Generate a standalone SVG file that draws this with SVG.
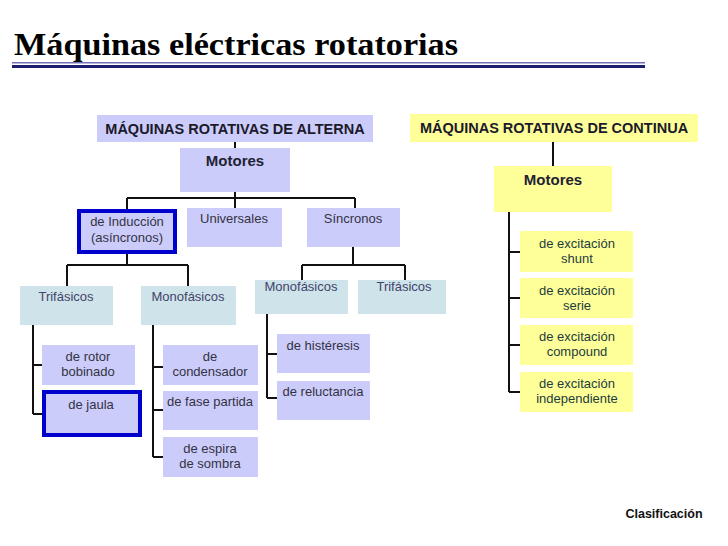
<svg xmlns="http://www.w3.org/2000/svg" width="728" height="546" viewBox="0 0 728 546">
<style>
.lav{fill:#ccccfa}
.cy{fill:#cfe3ea}
.yel{fill:#ffff99}
.hl{fill:#ccccfa;stroke:#0000cc;stroke-width:4}
text{font-family:"Liberation Sans",Arial,sans-serif;text-anchor:middle}
.t{font-size:13px;fill:#333344}
.tc{font-size:13px;fill:#44446a}
.ty{font-size:13px;fill:#1d3d3d}
.h{font-size:14.5px;font-weight:bold;fill:#1a1a2a}
.m{font-size:15px;font-weight:bold;fill:#222233}
.c path{fill:none;stroke:#111;stroke-width:2}
</style>
<rect width="728" height="546" fill="#fff"/>
<g id="title">
<text x="14" y="55" style="font-family:'Liberation Serif','Times New Roman',serif;font-size:32px;font-weight:bold;text-anchor:start;fill:#000" textLength="444" lengthAdjust="spacingAndGlyphs">Máquinas eléctricas rotatorias</text>
<rect x="12" y="62" width="633" height="1.5" fill="#7070b8"/>
<rect x="12" y="65" width="633" height="3" fill="#1c1c70"/>
</g>
<g class="c" id="connectors">
<path d="M235 141V148M235 192V198M127 198H355M127 198V209M235 198V208M355 198V208"/>
<path d="M127 253V265M67 265H188M67 265V286M188 265V286"/>
<path d="M33 325V414M33 365H42M33 414H42"/>
<path d="M153 325V457M153 367H163M153 410H163M153 457H163"/>
<path d="M353 247V265M302 265H405M302 265V280M405 265V280"/>
<path d="M267 314V398M267 354H277M267 398H277"/>
<path d="M553 142V166M509 212V392M509 252H520M509 298H520M509 345H520M509 392H520"/>
</g>
<g id="alterna">
<rect class="lav" x="97" y="115" width="276" height="27"/>
<text class="h" x="235" y="134">MÁQUINAS ROTATIVAS DE ALTERNA</text>
</g>
<g id="motores-alterna">
<rect class="lav" x="180" y="148" width="110" height="44"/>
<text class="m" x="235" y="166">Motores</text>
</g>
<g id="induccion">
<rect class="hl" x="79" y="211" width="96" height="41"/>
<text class="t" x="127" y="226">de Inducción</text>
<text class="t" x="127" y="242">(asíncronos)</text>
</g>
<g id="universales">
<rect class="lav" x="187" y="208" width="95" height="39"/>
<text class="t" x="234" y="223">Universales</text>
</g>
<g id="sincronos">
<rect class="lav" x="307" y="208" width="93" height="39"/>
<text class="t" x="353" y="223">Síncronos</text>
</g>
<g id="trifasicos-ind">
<rect class="cy" x="20" y="286" width="93" height="39"/>
<text class="tc" x="66" y="301">Trifásicos</text>
</g>
<g id="monofasicos-ind">
<rect class="cy" x="141" y="286" width="95" height="39"/>
<text class="tc" x="188" y="301">Monofásicos</text>
</g>
<g id="rotor-bobinado">
<rect class="lav" x="42" y="345" width="93" height="40"/>
<text class="t" x="88" y="361">de rotor</text>
<text class="t" x="88" y="376">bobinado</text>
</g>
<g id="jaula">
<rect class="hl" x="44" y="392" width="96" height="43"/>
<text class="t" x="91" y="409">de jaula</text>
</g>
<g id="condensador">
<rect class="lav" x="163" y="345" width="95" height="40"/>
<text class="t" x="210" y="361">de</text>
<text class="t" x="210" y="376">condensador</text>
</g>
<g id="fase-partida">
<rect class="lav" x="163" y="391" width="95" height="39"/>
<text class="t" x="210" y="406">de fase partida</text>
</g>
<g id="espira-sombra">
<rect class="lav" x="163" y="437" width="95" height="40"/>
<text class="t" x="210" y="453">de espira</text>
<text class="t" x="210" y="468">de sombra</text>
</g>
<g id="monofasicos-sin">
<rect class="cy" x="255" y="280" width="93" height="34"/>
<text class="tc" x="301" y="291">Monofásicos</text>
</g>
<g id="trifasicos-sin">
<rect class="cy" x="358" y="280" width="88" height="34"/>
<text class="tc" x="404" y="291">Trifásicos</text>
</g>
<g id="histeresis">
<rect class="lav" x="277" y="334" width="93" height="39"/>
<text class="t" x="323" y="350">de histéresis</text>
</g>
<g id="reluctancia">
<rect class="lav" x="277" y="381" width="93" height="39"/>
<text class="t" x="323" y="396">de reluctancia</text>
</g>
<g id="continua">
<rect class="yel" x="410" y="114" width="288" height="28"/>
<text class="h" x="554" y="133">MÁQUINAS ROTATIVAS DE CONTINUA</text>
</g>
<g id="motores-continua">
<rect class="yel" x="494" y="166" width="118" height="46"/>
<text class="m" x="553" y="185">Motores</text>
</g>
<g id="shunt">
<rect class="yel" x="520" y="231" width="113" height="41"/>
<text class="ty" x="577" y="248">de excitación</text>
<text class="ty" x="577" y="263">shunt</text>
</g>
<g id="serie">
<rect class="yel" x="520" y="278" width="113" height="40"/>
<text class="ty" x="577" y="295">de excitación</text>
<text class="ty" x="577" y="310">serie</text>
</g>
<g id="compound">
<rect class="yel" x="520" y="325" width="113" height="40"/>
<text class="ty" x="577" y="341">de excitación</text>
<text class="ty" x="577" y="356">compound</text>
</g>
<g id="independiente">
<rect class="yel" x="520" y="372" width="113" height="40"/>
<text class="ty" x="577" y="388">de excitación</text>
<text class="ty" x="577" y="403">independiente</text>
</g>
<g id="footer">
<text x="664" y="518" style="font-size:12.5px;font-weight:bold;fill:#111">Clasificación</text>
</g>
</svg>
